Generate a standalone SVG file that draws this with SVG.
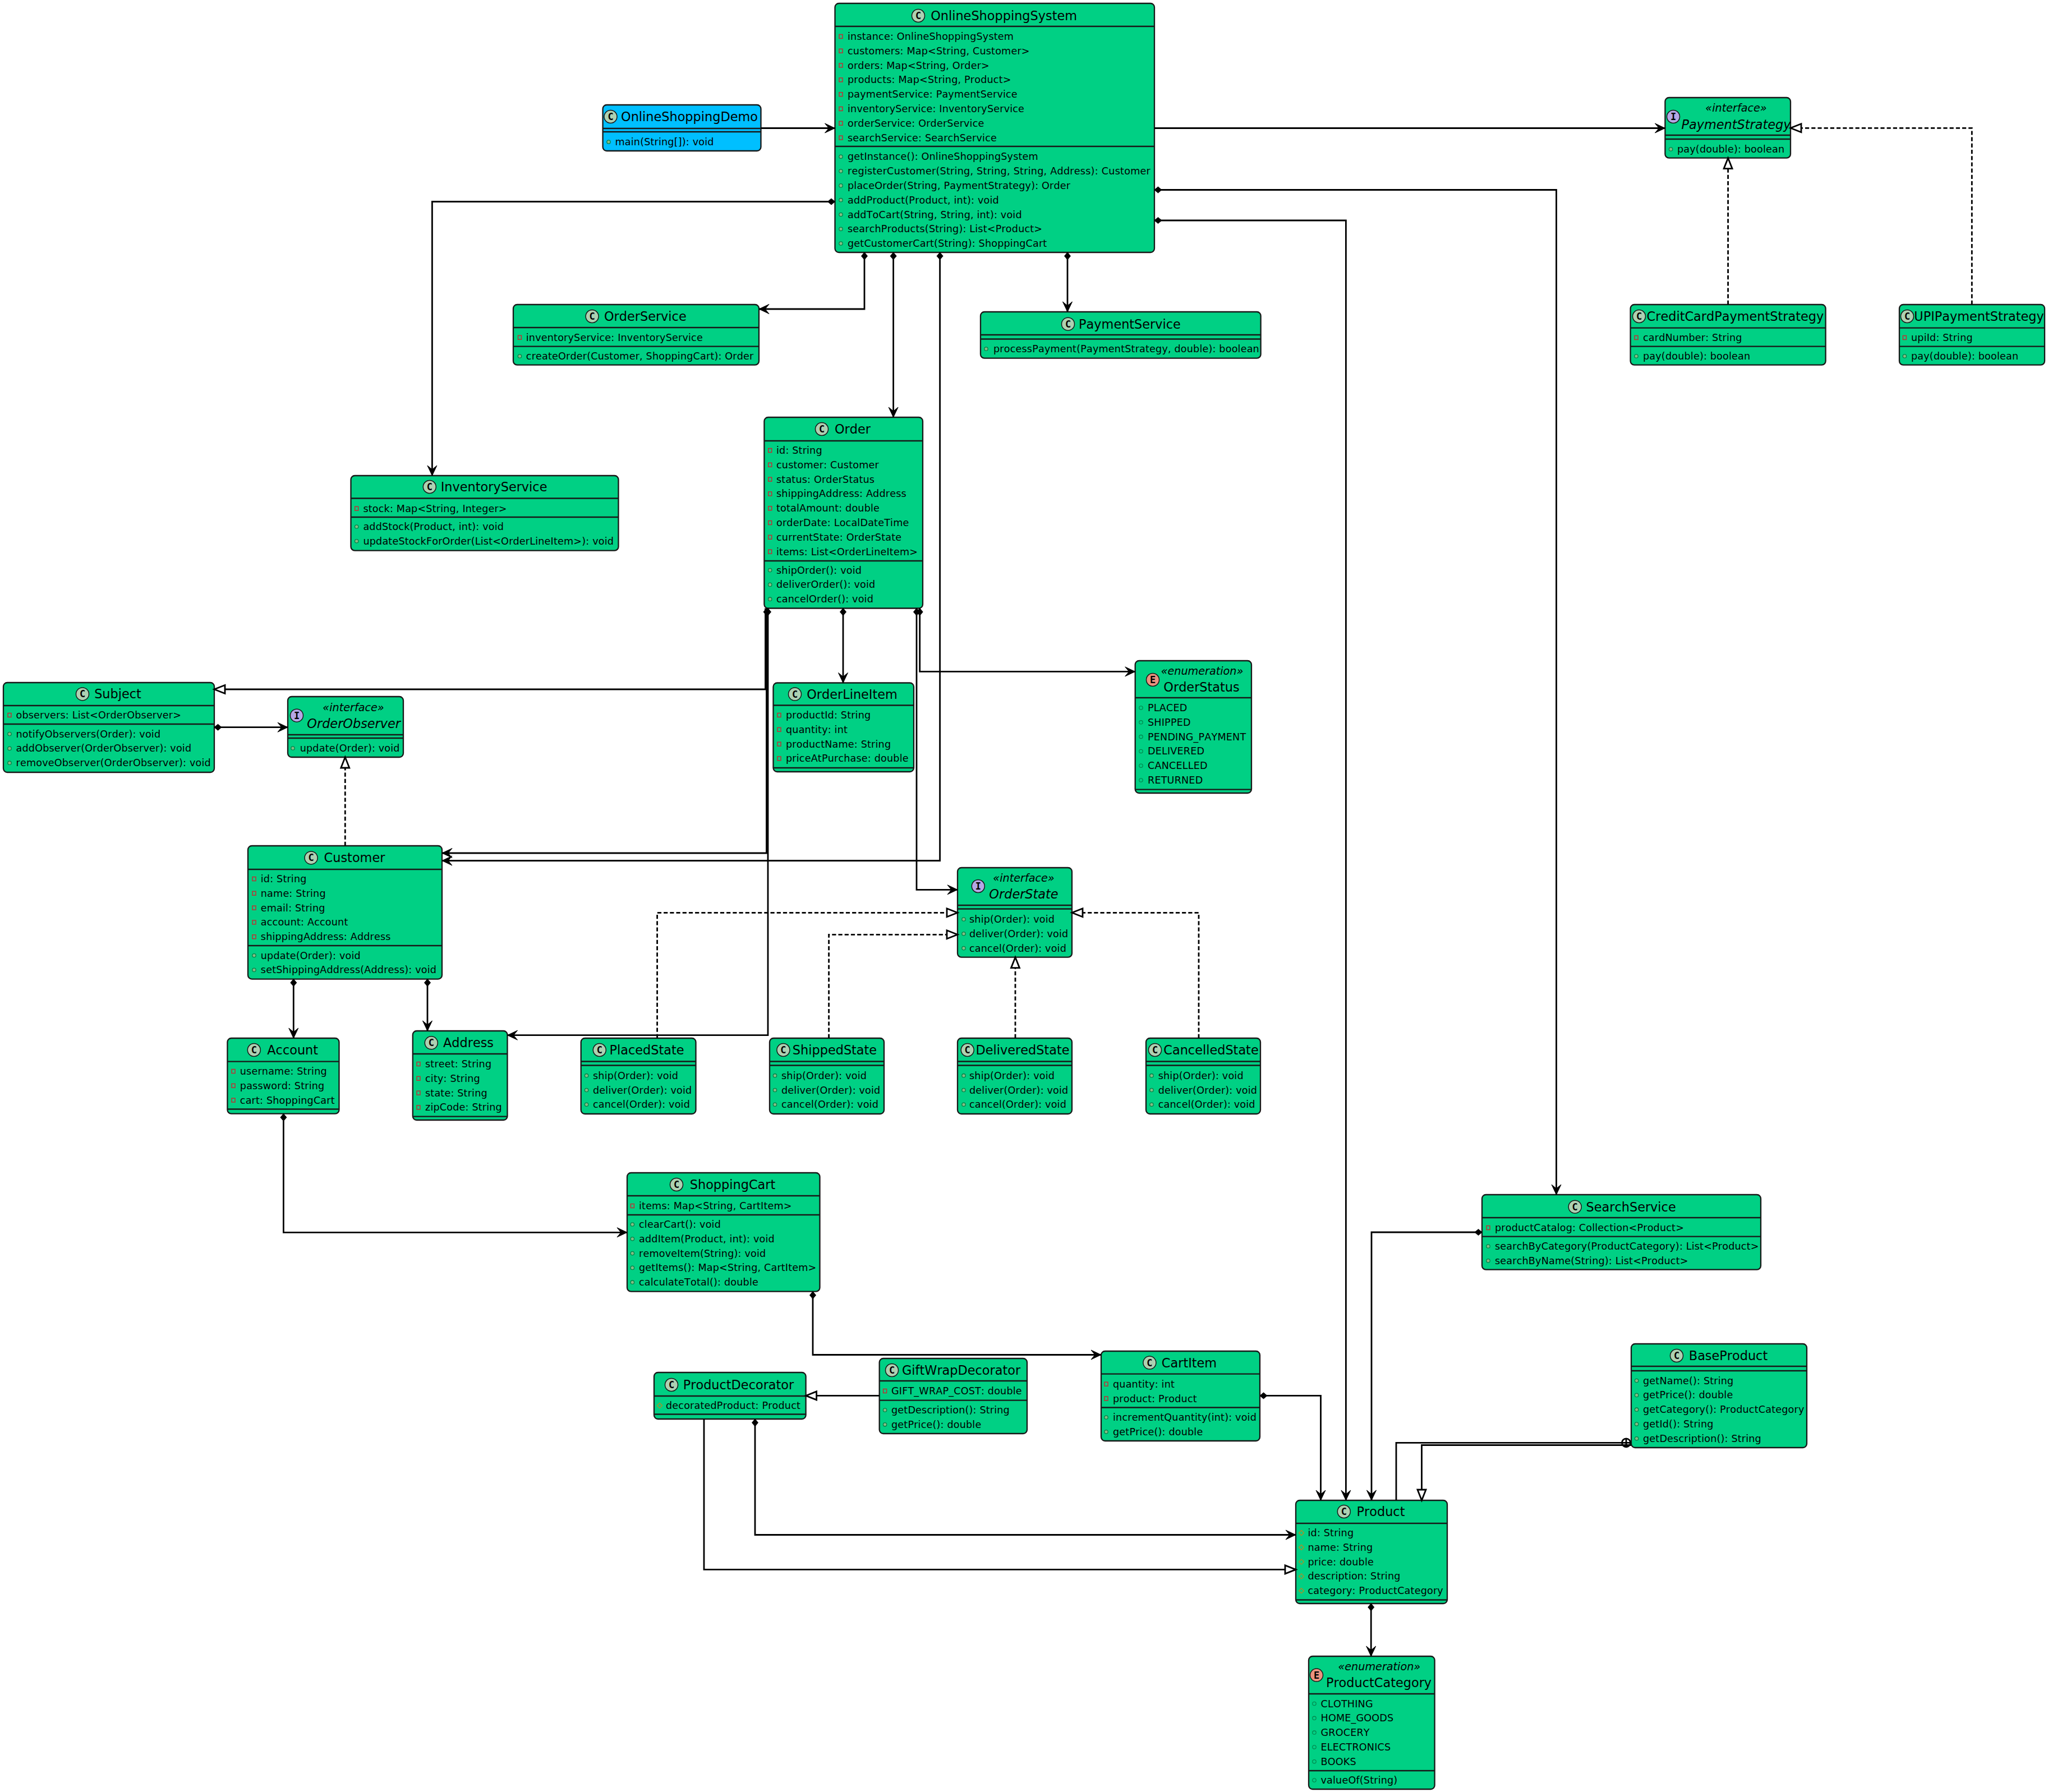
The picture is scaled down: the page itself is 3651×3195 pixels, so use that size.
<svg xmlns="http://www.w3.org/2000/svg" width="3651" height="3195" viewBox="0 0 3651 3195">
<style>
text{font-family:"DejaVu Sans",sans-serif;fill:#000;font-kerning:none}
.n{font-size:22.4px;text-anchor:middle}
.i{font-style:italic}
.m{font-size:17.6px;letter-spacing:.17px}
.s{font-size:19.2px;font-style:italic;text-anchor:middle}
.b{fill:#00D084;stroke:#181818;stroke-width:2.3}
.d{fill:#00BFFF;stroke:#181818;stroke-width:2.3}
.l{fill:none;stroke:#181818;stroke-width:2.3}
.ci{stroke:#181818;stroke-width:1.5}
.cc{fill:#ADD1B2}.ic{fill:#B4A7E5}.ec{fill:#EB937F}
.g{font-family:"DejaVu Sans Mono",monospace;font-weight:bold;font-size:17px;text-anchor:middle}
.c{fill:none;stroke:#000;stroke-width:2.8}
.da{stroke-dasharray:7.2 4}
.comp{marker-start:url(#mc)}
.arr{marker-end:url(#ma)}
.tri{marker-end:url(#mt)}
</style>
<defs>
<g id="pr"><rect x="-3" y="-3.5" width="6" height="7" fill="none" stroke="#C82930" stroke-width="1.4"/></g>
<g id="pu"><circle r="3.2" fill="#84BE84" stroke="#038048" stroke-width="1.3"/></g>
<g id="en"><circle r="3.2" fill="none" stroke="#038048" stroke-width="1.1"/></g>
<g id="pt"><path d="M0-4.5 4.5 0 0 4.5-4.5 0Z" fill="none" stroke="#B38D22" stroke-width="1.3"/></g>
<marker id="mc" markerUnits="userSpaceOnUse" markerWidth="30" markerHeight="30" refX="0" refY="0" viewBox="-2 -15 30 30" orient="auto" overflow="visible"><path d="M0 0 6.5-5.5 13 0 6.5 5.5Z" fill="#000" stroke="#000" stroke-width="1"/></marker>
<marker id="ma" markerUnits="userSpaceOnUse" markerWidth="30" markerHeight="30" refX="0" refY="0" viewBox="-28 -15 30 30" orient="auto" overflow="visible"><path d="M0 0-18-8.5-11 0-18 8.5Z" fill="#000" stroke="#000" stroke-width="1"/></marker>
<marker id="mt" markerUnits="userSpaceOnUse" markerWidth="30" markerHeight="30" refX="0" refY="0" viewBox="-28 -15 30 30" orient="auto" overflow="visible"><path d="M0 0-19-7.5V7.5Z" fill="#fff" stroke="#000" stroke-width="2.8"/></marker>
</defs>
<rect width="3651" height="3195" fill="#fff"/>

<g id="OnlineShoppingSystem">
<rect class="b" x="1488.5" y="6" width="569.5" height="444" rx="7"/><path class="l" d="M1488.5 47H2058M1488.5 261H2058"/>
<circle class="ci cc" cx="1637" cy="28" r="11.5"/><text class="g" x="1637" y="34">C</text><text class="n" x="1789.6" y="36">OnlineShoppingSystem</text>
<use href="#pr" x="1499" y="65"/><text class="m" x="1511" y="71">instance: OnlineShoppingSystem</text>
<use href="#pr" x="1499" y="90.8"/><text class="m" x="1511" y="96.8">customers: Map&lt;String, Customer&gt;</text>
<use href="#pr" x="1499" y="116.6"/><text class="m" x="1511" y="122.6">orders: Map&lt;String, Order&gt;</text>
<use href="#pr" x="1499" y="142.4"/><text class="m" x="1511" y="148.4">products: Map&lt;String, Product&gt;</text>
<use href="#pr" x="1499" y="168.2"/><text class="m" x="1511" y="174.2">paymentService: PaymentService</text>
<use href="#pr" x="1499" y="194"/><text class="m" x="1511" y="200">inventoryService: InventoryService</text>
<use href="#pr" x="1499" y="219.8"/><text class="m" x="1511" y="225.8">orderService: OrderService</text>
<use href="#pr" x="1499" y="245.6"/><text class="m" x="1511" y="251.6">searchService: SearchService</text>
<use href="#pu" x="1499" y="279.3"/><text class="m" x="1511" y="285.3">getInstance(): OnlineShoppingSystem</text>
<use href="#pu" x="1499" y="305.1"/><text class="m" x="1511" y="311.1" textLength="540">registerCustomer(String, String, String, Address): Customer</text>
<use href="#pu" x="1499" y="330.9"/><text class="m" x="1511" y="336.9">placeOrder(String, PaymentStrategy): Order</text>
<use href="#pu" x="1499" y="356.7"/><text class="m" x="1511" y="362.7">addProduct(Product, int): void</text>
<use href="#pu" x="1499" y="382.5"/><text class="m" x="1511" y="388.5">addToCart(String, String, int): void</text>
<use href="#pu" x="1499" y="408.3"/><text class="m" x="1511" y="414.3">searchProducts(String): List&lt;Product&gt;</text>
<use href="#pu" x="1499" y="434.1"/><text class="m" x="1511" y="440.1">getCustomerCart(String): ShoppingCart</text>
</g>

<g id="OnlineShoppingDemo">
<rect class="d" x="1074.6" y="187" width="281.9" height="82" rx="7"/><path class="l" d="M1074.6 229H1356.5M1074.6 235H1356.5"/>
<circle class="ci cc" cx="1088.5" cy="208" r="11.5"/><text class="g" x="1088.5" y="214">C</text><text class="n" x="1229" y="216">OnlineShoppingDemo</text>
<use href="#pu" x="1085" y="253"/><text class="m" x="1096.5" y="259">main(String[]): void</text>
</g>

<g id="PaymentStrategy">
<rect class="b" x="2968.4" y="174" width="223.6" height="107.7" rx="7"/><path class="l" d="M2968.4 241H3192M2968.4 248H3192"/>
<circle class="ci ic" cx="2983" cy="208" r="11.5"/><text class="g" x="2983" y="214">I</text><text class="s" x="3095" y="199">«interface»</text><text class="n i" x="3095" y="229.7">PaymentStrategy</text>
<use href="#pu" x="2978.6" y="266"/><text class="m" x="2990" y="272">pay(double): boolean</text>
</g>

<g id="CreditCardPaymentStrategy">
<rect class="b" x="2906.6" y="543" width="348" height="107.7" rx="7"/><path class="l" d="M2906.6 584.7H3254.6M2906.6 617.7H3254.6"/>
<circle class="ci cc" cx="2922" cy="564" r="11.5"/><text class="g" x="2922" y="570">C</text><text class="n" x="3093.4" y="572">CreditCardPaymentStrategy</text>
<use href="#pr" x="2917" y="602"/><text class="m" x="2929" y="608">cardNumber: String</text>
<use href="#pu" x="2917" y="635"/><text class="m" x="2929" y="641">pay(double): boolean</text>
</g>

<g id="UPIPaymentStrategy">
<rect class="b" x="3386" y="543" width="259" height="107.7" rx="7"/><path class="l" d="M3386 584.7H3645M3386 617.7H3645"/>
<circle class="ci cc" cx="3400" cy="564" r="11.5"/><text class="g" x="3400" y="570">C</text><text class="n" x="3528" y="572">UPIPaymentStrategy</text>
<use href="#pr" x="3395.4" y="602"/><text class="m" x="3407" y="608">upiId: String</text>
<use href="#pu" x="3395.4" y="635"/><text class="m" x="3407" y="641">pay(double): boolean</text>
</g>

<g id="PaymentService">
<rect class="b" x="1748" y="556" width="499.6" height="82.7" rx="7"/><path class="l" d="M1748 597H2247.6M1748 604.5H2247.6"/>
<circle class="ci cc" cx="1904" cy="577.7" r="11.5"/><text class="g" x="1904" y="583.7">C</text><text class="n" x="2014" y="585.7">PaymentService</text>
<use href="#pu" x="1758" y="622"/><text class="m" x="1771" y="628">processPayment(PaymentStrategy, double): boolean</text>
</g>

<g id="OrderService">
<rect class="b" x="915" y="543" width="438" height="107.7" rx="7"/><path class="l" d="M915 584H1353M915 617.7H1353"/>
<circle class="ci cc" cx="1055.6" cy="564" r="11.5"/><text class="g" x="1055.6" y="570">C</text><text class="n" x="1150.3" y="572">OrderService</text>
<use href="#pr" x="926.5" y="601.7"/><text class="m" x="937.8" y="607.7">inventoryService: InventoryService</text>
<use href="#pu" x="926.5" y="635"/><text class="m" x="937.8" y="641">createOrder(Customer, ShoppingCart): Order</text>
</g>

<g id="InventoryService">
<rect class="b" x="625.5" y="848" width="477" height="133.7" rx="7"/><path class="l" d="M625.5 888.5H1102.5M625.5 922H1102.5"/>
<circle class="ci cc" cx="765.8" cy="868" r="11.5"/><text class="g" x="765.8" y="874">C</text><text class="n" x="880.6" y="876">InventoryService</text>
<use href="#pr" x="635.7" y="906.7"/><text class="m" x="647.4" y="912.7">stock: Map&lt;String, Integer&gt;</text>
<use href="#pu" x="635.7" y="939"/><text class="m" x="647.4" y="945">addStock(Product, int): void</text>
<use href="#pu" x="635.7" y="964.8"/><text class="m" x="647.4" y="970.8">updateStockForOrder(List&lt;OrderLineItem&gt;): void</text>
</g>

<g id="Order">
<rect class="b" x="1362.4" y="744" width="282.6" height="340.5" rx="7"/><path class="l" d="M1362.4 786H1645M1362.4 1000H1645"/>
<circle class="ci cc" cx="1465" cy="765" r="11.5"/><text class="g" x="1465" y="771">C</text><text class="n" x="1520" y="773">Order</text>
<use href="#pr" x="1372.7" y="803"/><text class="m" x="1384" y="809">id: String</text>
<use href="#pr" x="1372.7" y="828.8"/><text class="m" x="1384" y="834.8">customer: Customer</text>
<use href="#pr" x="1372.7" y="854.6"/><text class="m" x="1384" y="860.6">status: OrderStatus</text>
<use href="#pr" x="1372.7" y="880.4"/><text class="m" x="1384" y="886.4">shippingAddress: Address</text>
<use href="#pr" x="1372.7" y="906.2"/><text class="m" x="1384" y="912.2">totalAmount: double</text>
<use href="#pr" x="1372.7" y="932"/><text class="m" x="1384" y="938">orderDate: LocalDateTime</text>
<use href="#pr" x="1372.7" y="957.8"/><text class="m" x="1384" y="963.8">currentState: OrderState</text>
<use href="#pr" x="1372.7" y="983.6"/><text class="m" x="1384" y="989.6">items: List&lt;OrderLineItem&gt;</text>
<use href="#pu" x="1372.7" y="1016.6"/><text class="m" x="1384" y="1022.6">shipOrder(): void</text>
<use href="#pu" x="1372.7" y="1042.4"/><text class="m" x="1384" y="1048.4">deliverOrder(): void</text>
<use href="#pu" x="1372.7" y="1068.2"/><text class="m" x="1384" y="1074.2">cancelOrder(): void</text>
</g>

<g id="OrderLineItem">
<rect class="b" x="1378.5" y="1217.5" width="250.5" height="158.5" rx="7"/><path class="l" d="M1378.5 1257.5H1629M1378.5 1369H1629"/>
<circle class="ci cc" cx="1417" cy="1237.6" r="11.5"/><text class="g" x="1417" y="1243.6">C</text><text class="n" x="1519" y="1245.6">OrderLineItem</text>
<use href="#pr" x="1389" y="1275"/><text class="m" x="1401" y="1281">productId: String</text>
<use href="#pr" x="1389" y="1300.8"/><text class="m" x="1401" y="1306.8">quantity: int</text>
<use href="#pr" x="1389" y="1326.6"/><text class="m" x="1401" y="1332.6">productName: String</text>
<use href="#pr" x="1389" y="1352.4"/><text class="m" x="1401" y="1358.4">priceAtPurchase: double</text>
</g>

<g id="OrderStatus">
<rect class="b" x="2023.7" y="1178" width="207.3" height="236" rx="7"/><path class="l" d="M2023.7 1244H2231M2023.7 1407.7H2231"/>
<circle class="ci ec" cx="2055" cy="1212" r="11.5"/><text class="g" x="2055" y="1218">E</text><text class="s" x="2143" y="1202.5">«enumeration»</text><text class="n" x="2142" y="1233">OrderStatus</text>
<use href="#en" x="2034" y="1262"/><text class="m" x="2046" y="1268">PLACED</text>
<use href="#en" x="2034" y="1287.8"/><text class="m" x="2046" y="1293.8">SHIPPED</text>
<use href="#en" x="2034" y="1313.6"/><text class="m" x="2046" y="1319.6">PENDING_PAYMENT</text>
<use href="#en" x="2034" y="1339.4"/><text class="m" x="2046" y="1345.4">DELIVERED</text>
<use href="#en" x="2034" y="1365.2"/><text class="m" x="2046" y="1371.2">CANCELLED</text>
<use href="#en" x="2034" y="1391"/><text class="m" x="2046" y="1397">RETURNED</text>
</g>

<g id="Subject">
<rect class="b" x="6" y="1217" width="376" height="160" rx="7"/><path class="l" d="M6 1258H382M6 1291H382"/>
<circle class="ci cc" cx="147" cy="1237.4" r="11.5"/><text class="g" x="147" y="1243.4">C</text><text class="n" x="210" y="1245.4">Subject</text>
<use href="#pr" x="17" y="1275"/><text class="m" x="28.5" y="1281">observers: List&lt;OrderObserver&gt;</text>
<use href="#pu" x="17" y="1308.6"/><text class="m" x="28.5" y="1314.6">notifyObservers(Order): void</text>
<use href="#pu" x="17" y="1334.4"/><text class="m" x="28.5" y="1340.4">addObserver(OrderObserver): void</text>
<use href="#pu" x="17" y="1360.2"/><text class="m" x="28.5" y="1366.2">removeObserver(OrderObserver): void</text>
</g>

<g id="OrderObserver">
<rect class="b" x="513" y="1242" width="206" height="108" rx="7"/><path class="l" d="M513 1310H719M513 1316H719"/>
<circle class="ci ic" cx="529" cy="1275.7" r="11.5"/><text class="g" x="529" y="1281.7">I</text><text class="s" x="630" y="1267.5">«interface»</text><text class="n i" x="630.7" y="1298">OrderObserver</text>
<use href="#pu" x="522" y="1334"/><text class="m" x="534.7" y="1340">update(Order): void</text>
</g>

<g id="Customer">
<rect class="b" x="442" y="1508" width="346" height="237.6" rx="7"/><path class="l" d="M442 1550H788M442 1686H788"/>
<circle class="ci cc" cx="554.6" cy="1529.4" r="11.5"/><text class="g" x="554.6" y="1535.4">C</text><text class="n" x="632" y="1537.4">Customer</text>
<use href="#pr" x="453" y="1567"/><text class="m" x="464.8" y="1573">id: String</text>
<use href="#pr" x="453" y="1592.8"/><text class="m" x="464.8" y="1598.8">name: String</text>
<use href="#pr" x="453" y="1618.6"/><text class="m" x="464.8" y="1624.6">email: String</text>
<use href="#pr" x="453" y="1644.4"/><text class="m" x="464.8" y="1650.4">account: Account</text>
<use href="#pr" x="453" y="1670.2"/><text class="m" x="464.8" y="1676.2">shippingAddress: Address</text>
<use href="#pu" x="453" y="1703.5"/><text class="m" x="464.8" y="1709.5">update(Order): void</text>
<use href="#pu" x="453" y="1729.3"/><text class="m" x="464.8" y="1735.3">setShippingAddress(Address): void</text>
</g>

<g id="Account">
<rect class="b" x="405.4" y="1851" width="199.1" height="134.7" rx="7"/><path class="l" d="M405.4 1892.7H604.5M405.4 1977.5H604.5"/>
<circle class="ci cc" cx="452.8" cy="1872" r="11.5"/><text class="g" x="452.8" y="1878">C</text><text class="n" x="521.7" y="1880">Account</text>
<use href="#pr" x="416" y="1910"/><text class="m" x="427.8" y="1916">username: String</text>
<use href="#pr" x="416" y="1935.8"/><text class="m" x="427.8" y="1941.8">password: String</text>
<use href="#pr" x="416" y="1961.6"/><text class="m" x="427.8" y="1967.6">cart: ShoppingCart</text>
</g>

<g id="Address">
<rect class="b" x="735.8" y="1838" width="168.7" height="159" rx="7"/><path class="l" d="M735.8 1879H904.5M735.8 1990.7H904.5"/>
<circle class="ci cc" cx="768.8" cy="1859.3" r="11.5"/><text class="g" x="768.8" y="1865.3">C</text><text class="n" x="835" y="1867.3">Address</text>
<use href="#pr" x="746" y="1897"/><text class="m" x="758" y="1903">street: String</text>
<use href="#pr" x="746" y="1922.8"/><text class="m" x="758" y="1928.8">city: String</text>
<use href="#pr" x="746" y="1948.6"/><text class="m" x="758" y="1954.6">state: String</text>
<use href="#pr" x="746" y="1974.4"/><text class="m" x="758" y="1980.4">zipCode: String</text>
</g>

<g id="OrderState">
<rect class="b" x="1707" y="1547" width="204" height="159.7" rx="7"/><path class="l" d="M1707 1614H1911M1707 1620.5H1911"/>
<circle class="ci ic" cx="1743.8" cy="1580" r="11.5"/><text class="g" x="1743.8" y="1586">I</text><text class="s" x="1825" y="1572">«interface»</text><text class="n i" x="1825" y="1602">OrderState</text>
<use href="#pu" x="1718" y="1639"/><text class="m" x="1728" y="1645">ship(Order): void</text>
<use href="#pu" x="1718" y="1664.8"/><text class="m" x="1728" y="1670.8">deliver(Order): void</text>
<use href="#pu" x="1718" y="1690.6"/><text class="m" x="1728" y="1696.6">cancel(Order): void</text>
</g>

<g id="PlacedState">
<rect class="b" x="1035.7" y="1851" width="204.8" height="135" rx="7"/><path class="l" d="M1035.7 1892.5H1240.5M1035.7 1899.5H1240.5"/>
<circle class="ci cc" cx="1068.8" cy="1872" r="11.5"/><text class="g" x="1068.8" y="1878">C</text><text class="n" x="1153" y="1880">PlacedState</text>
<use href="#pu" x="1045.6" y="1917.7"/><text class="m" x="1057" y="1923.7">ship(Order): void</text>
<use href="#pu" x="1045.6" y="1943.5"/><text class="m" x="1057" y="1949.5">deliver(Order): void</text>
<use href="#pu" x="1045.6" y="1969.3"/><text class="m" x="1057" y="1975.3">cancel(Order): void</text>
</g>

<g id="ShippedState">
<rect class="b" x="1372" y="1851" width="204" height="135" rx="7"/><path class="l" d="M1372 1892.5H1576M1372 1899.5H1576"/>
<circle class="ci cc" cx="1396.4" cy="1872" r="11.5"/><text class="g" x="1396.4" y="1878">C</text><text class="n" x="1488" y="1880">ShippedState</text>
<use href="#pu" x="1381.5" y="1917.7"/><text class="m" x="1393" y="1923.7">ship(Order): void</text>
<use href="#pu" x="1381.5" y="1943.5"/><text class="m" x="1393" y="1949.5">deliver(Order): void</text>
<use href="#pu" x="1381.5" y="1969.3"/><text class="m" x="1393" y="1975.3">cancel(Order): void</text>
</g>

<g id="DeliveredState">
<rect class="b" x="1707" y="1851" width="204" height="135" rx="7"/><path class="l" d="M1707 1892.5H1911M1707 1899.5H1911"/>
<circle class="ci cc" cx="1724.7" cy="1872" r="11.5"/><text class="g" x="1724.7" y="1878">C</text><text class="n" x="1823" y="1880">DeliveredState</text>
<use href="#pu" x="1718" y="1917.7"/><text class="m" x="1728" y="1923.7">ship(Order): void</text>
<use href="#pu" x="1718" y="1943.5"/><text class="m" x="1728" y="1949.5">deliver(Order): void</text>
<use href="#pu" x="1718" y="1969.3"/><text class="m" x="1728" y="1975.3">cancel(Order): void</text>
</g>

<g id="CancelledState">
<rect class="b" x="2043" y="1851" width="204" height="135" rx="7"/><path class="l" d="M2043 1892.5H2247M2043 1899.5H2247"/>
<circle class="ci cc" cx="2059" cy="1872" r="11.5"/><text class="g" x="2059" y="1878">C</text><text class="n" x="2159" y="1880">CancelledState</text>
<use href="#pu" x="2053" y="1917.7"/><text class="m" x="2064.7" y="1923.7">ship(Order): void</text>
<use href="#pu" x="2053" y="1943.5"/><text class="m" x="2064.7" y="1949.5">deliver(Order): void</text>
<use href="#pu" x="2053" y="1969.3"/><text class="m" x="2064.7" y="1975.3">cancel(Order): void</text>
</g>

<g id="ShoppingCart">
<rect class="b" x="1118" y="2091" width="343.5" height="211.7" rx="7"/><path class="l" d="M1118 2132H1461.5M1118 2166H1461.5"/>
<circle class="ci cc" cx="1206" cy="2112" r="11.5"/><text class="g" x="1206" y="2118">C</text><text class="n" x="1306" y="2120">ShoppingCart</text>
<use href="#pr" x="1127.4" y="2150"/><text class="m" x="1139" y="2156">items: Map&lt;String, CartItem&gt;</text>
<use href="#pu" x="1127.4" y="2183"/><text class="m" x="1139" y="2189">clearCart(): void</text>
<use href="#pu" x="1127.4" y="2208.8"/><text class="m" x="1139" y="2214.8">addItem(Product, int): void</text>
<use href="#pu" x="1127.4" y="2234.6"/><text class="m" x="1139" y="2240.6">removeItem(String): void</text>
<use href="#pu" x="1127.4" y="2260.4"/><text class="m" x="1139" y="2266.4">getItems(): Map&lt;String, CartItem&gt;</text>
<use href="#pu" x="1127.4" y="2286.2"/><text class="m" x="1139" y="2292.2">calculateTotal(): double</text>
</g>

<g id="ProductDecorator">
<rect class="b" x="1166" y="2447" width="270.6" height="83" rx="7"/><path class="l" d="M1166 2489H1436.6M1166 2521.5H1436.6"/>
<circle class="ci cc" cx="1197" cy="2469" r="11.5"/><text class="g" x="1197" y="2475">C</text><text class="n" x="1316.5" y="2477">ProductDecorator</text>
<use href="#pt" x="1176" y="2506"/><text class="m" x="1187" y="2512">decoratedProduct: Product</text>
</g>

<g id="GiftWrapDecorator">
<rect class="b" x="1567.7" y="2422" width="263.3" height="134" rx="7"/><path class="l" d="M1567.7 2462H1831M1567.7 2496.6H1831"/>
<circle class="ci cc" cx="1590" cy="2443" r="11.5"/><text class="g" x="1590" y="2449">C</text><text class="n" x="1713.6" y="2451">GiftWrapDecorator</text>
<use href="#pr" x="1577.6" y="2480"/><text class="m" x="1589" y="2486">GIFT_WRAP_COST: double</text>
<use href="#pu" x="1577.6" y="2514"/><text class="m" x="1589" y="2520">getDescription(): String</text>
<use href="#pu" x="1577.6" y="2539.8"/><text class="m" x="1589" y="2545.8">getPrice(): double</text>
</g>

<g id="CartItem">
<rect class="b" x="1963" y="2409" width="283" height="160" rx="7"/><path class="l" d="M1963 2449.6H2246M1963 2509.5H2246"/>
<circle class="ci cc" cx="2049.4" cy="2429.6" r="11.5"/><text class="g" x="2049.4" y="2435.6">C</text><text class="n" x="2120" y="2437.6">CartItem</text>
<use href="#pr" x="1972" y="2467.7"/><text class="m" x="1984" y="2473.7">quantity: int</text>
<use href="#pr" x="1972" y="2493.5"/><text class="m" x="1984" y="2499.5">product: Product</text>
<use href="#pu" x="1972" y="2527"/><text class="m" x="1984" y="2533">incrementQuantity(int): void</text>
<use href="#pu" x="1972" y="2552.8"/><text class="m" x="1984" y="2558.8">getPrice(): double</text>
</g>

<g id="SearchService">
<rect class="b" x="2642" y="2130" width="497" height="133.7" rx="7"/><path class="l" d="M2642 2171H3139M2642 2204.7H3139"/>
<circle class="ci cc" cx="2807.7" cy="2151.7" r="11.5"/><text class="g" x="2807.7" y="2157.7">C</text><text class="n" x="2907.6" y="2159.7">SearchService</text>
<use href="#pr" x="2653" y="2189"/><text class="m" x="2665" y="2195">productCatalog: Collection&lt;Product&gt;</text>
<use href="#pu" x="2653" y="2222"/><text class="m" x="2665" y="2228">searchByCategory(ProductCategory): List&lt;Product&gt;</text>
<use href="#pu" x="2653" y="2247.8"/><text class="m" x="2665" y="2253.8">searchByName(String): List&lt;Product&gt;</text>
</g>

<g id="BaseProduct">
<rect class="b" x="2908" y="2396" width="313" height="185" rx="7"/><path class="l" d="M2908 2436H3221M2908 2444H3221"/>
<circle class="ci cc" cx="2989" cy="2417" r="11.5"/><text class="g" x="2989" y="2423">C</text><text class="n" x="3081" y="2425">BaseProduct</text>
<use href="#pu" x="2917.6" y="2461.6"/><text class="m" x="2929" y="2467.6">getName(): String</text>
<use href="#pu" x="2917.6" y="2487.4"/><text class="m" x="2929" y="2493.4">getPrice(): double</text>
<use href="#pu" x="2917.6" y="2513.2"/><text class="m" x="2929" y="2519.2">getCategory(): ProductCategory</text>
<use href="#pu" x="2917.6" y="2539"/><text class="m" x="2929" y="2545">getId(): String</text>
<use href="#pu" x="2917.6" y="2564.8"/><text class="m" x="2929" y="2570.8">getDescription(): String</text>
</g>

<g id="Product">
<rect class="b" x="2310" y="2675" width="270" height="184" rx="7"/><path class="l" d="M2310 2716H2580M2310 2852.5H2580"/>
<circle class="ci cc" cx="2395.8" cy="2695" r="11.5"/><text class="g" x="2395.8" y="2701">C</text><text class="n" x="2461.5" y="2703">Product</text>
<use href="#pt" x="2320" y="2733"/><text class="m" x="2331.5" y="2739">id: String</text>
<use href="#pt" x="2320" y="2758.8"/><text class="m" x="2331.5" y="2764.8">name: String</text>
<use href="#pt" x="2320" y="2784.6"/><text class="m" x="2331.5" y="2790.6">price: double</text>
<use href="#pt" x="2320" y="2810.4"/><text class="m" x="2331.5" y="2816.4">description: String</text>
<use href="#pt" x="2320" y="2836.2"/><text class="m" x="2331.5" y="2842.2">category: ProductCategory</text>
</g>

<g id="ProductCategory">
<rect class="b" x="2333" y="2953" width="224.6" height="237" rx="7"/><path class="l" d="M2333 3020H2557.6M2333 3157H2557.6"/>
<circle class="ci ec" cx="2347" cy="2986.6" r="11.5"/><text class="g" x="2347" y="2992.6">E</text><text class="s" x="2458.8" y="2978">«enumeration»</text><text class="n" x="2458" y="3008">ProductCategory</text>
<use href="#en" x="2343" y="3037.5"/><text class="m" x="2354.5" y="3043.5">CLOTHING</text>
<use href="#en" x="2343" y="3063.3"/><text class="m" x="2354.5" y="3069.3">HOME_GOODS</text>
<use href="#en" x="2343" y="3089.1"/><text class="m" x="2354.5" y="3095.1">GROCERY</text>
<use href="#en" x="2343" y="3114.9"/><text class="m" x="2354.5" y="3120.9">ELECTRONICS</text>
<use href="#en" x="2343" y="3140.7"/><text class="m" x="2354.5" y="3146.7">BOOKS</text>
<use href="#en" x="2343" y="3174"/><text class="m" x="2354.5" y="3180">valueOf(String)</text>
</g>

<g id="connectors">
<path class="c arr" d="M1356.5 228.5H1488.5"/>
<path class="c arr" d="M2058 228.5H2968.4"/>
<path class="c comp arr" d="M1488.5 359.5H770.4V848"/>
<path class="c comp arr" d="M1541 450V551H1353"/>
<path class="c comp arr" d="M1592.6 450V744"/>
<path class="c comp arr" d="M1675.6 450V1534.5H788"/>
<path class="c comp arr" d="M1903 450V556"/>
<path class="c comp arr" d="M2058 338.5H2774.5V2130"/>
<path class="c comp arr" d="M2058 393H2399.4V2675"/>
<path class="c comp arr" d="M2642 2197H2445V2675"/>
<path class="c comp arr" d="M2246 2488.4H2354.5V2675"/>
<path class="c" d="M2908 2572.3H2489V2675"/>
<circle cx="2899" cy="2572.3" r="7.5" fill="#fff" stroke="#000" stroke-width="2.8"/><path class="c" d="M2891.5 2572.3H2906.5M2899 2564.8V2579.8"/>
<path class="c tri" d="M2908 2576.5H2534.5V2675"/>
<path class="c comp arr" d="M2444.2 2859V2953"/>
<path class="c tri" d="M1364.5 1084.5V1229H382"/>
<path class="c comp arr" d="M1366.5 1084.5V1521H788"/>
<path class="c comp arr" d="M1369 1084.5V1845.7H904.5"/>
<path class="c comp arr" d="M1503 1084.5V1217.5"/>
<path class="c comp arr" d="M1639.7 1084.5V1197.4H2023.7"/>
<path class="c comp arr" d="M1634 1084.5V1586.3H1707"/>
<path class="c comp arr" d="M382 1296.7H513"/>
<path class="c da tri" d="M615.3 1508V1350"/>
<path class="c comp arr" d="M523.3 1745.6V1851"/>
<path class="c comp arr" d="M762 1745.6V1838"/>
<path class="c comp arr" d="M505.4 1985.7V2197.3H1118"/>
<path class="c comp arr" d="M1449 2302.7V2415.5H1963"/>
<path class="c tri" d="M1567.7 2488.4H1436.6"/>
<path class="c comp arr" d="M1346 2530V2736.5H2310"/>
<path class="c tri" d="M1255 2530V2798.4H2310"/>
<path class="c da tri" d="M1171.6 1851V1627.3H1707"/>
<path class="c da tri" d="M1477.6 1851V1666.3H1707"/>
<path class="c da tri" d="M1810 1851V1706.7"/>
<path class="c da tri" d="M2137 1851V1627.3H1911"/>
<path class="c da tri" d="M3080.6 543V281.7"/>
<path class="c da tri" d="M3515.3 543V228.3H3192"/>
</g>
</svg>
